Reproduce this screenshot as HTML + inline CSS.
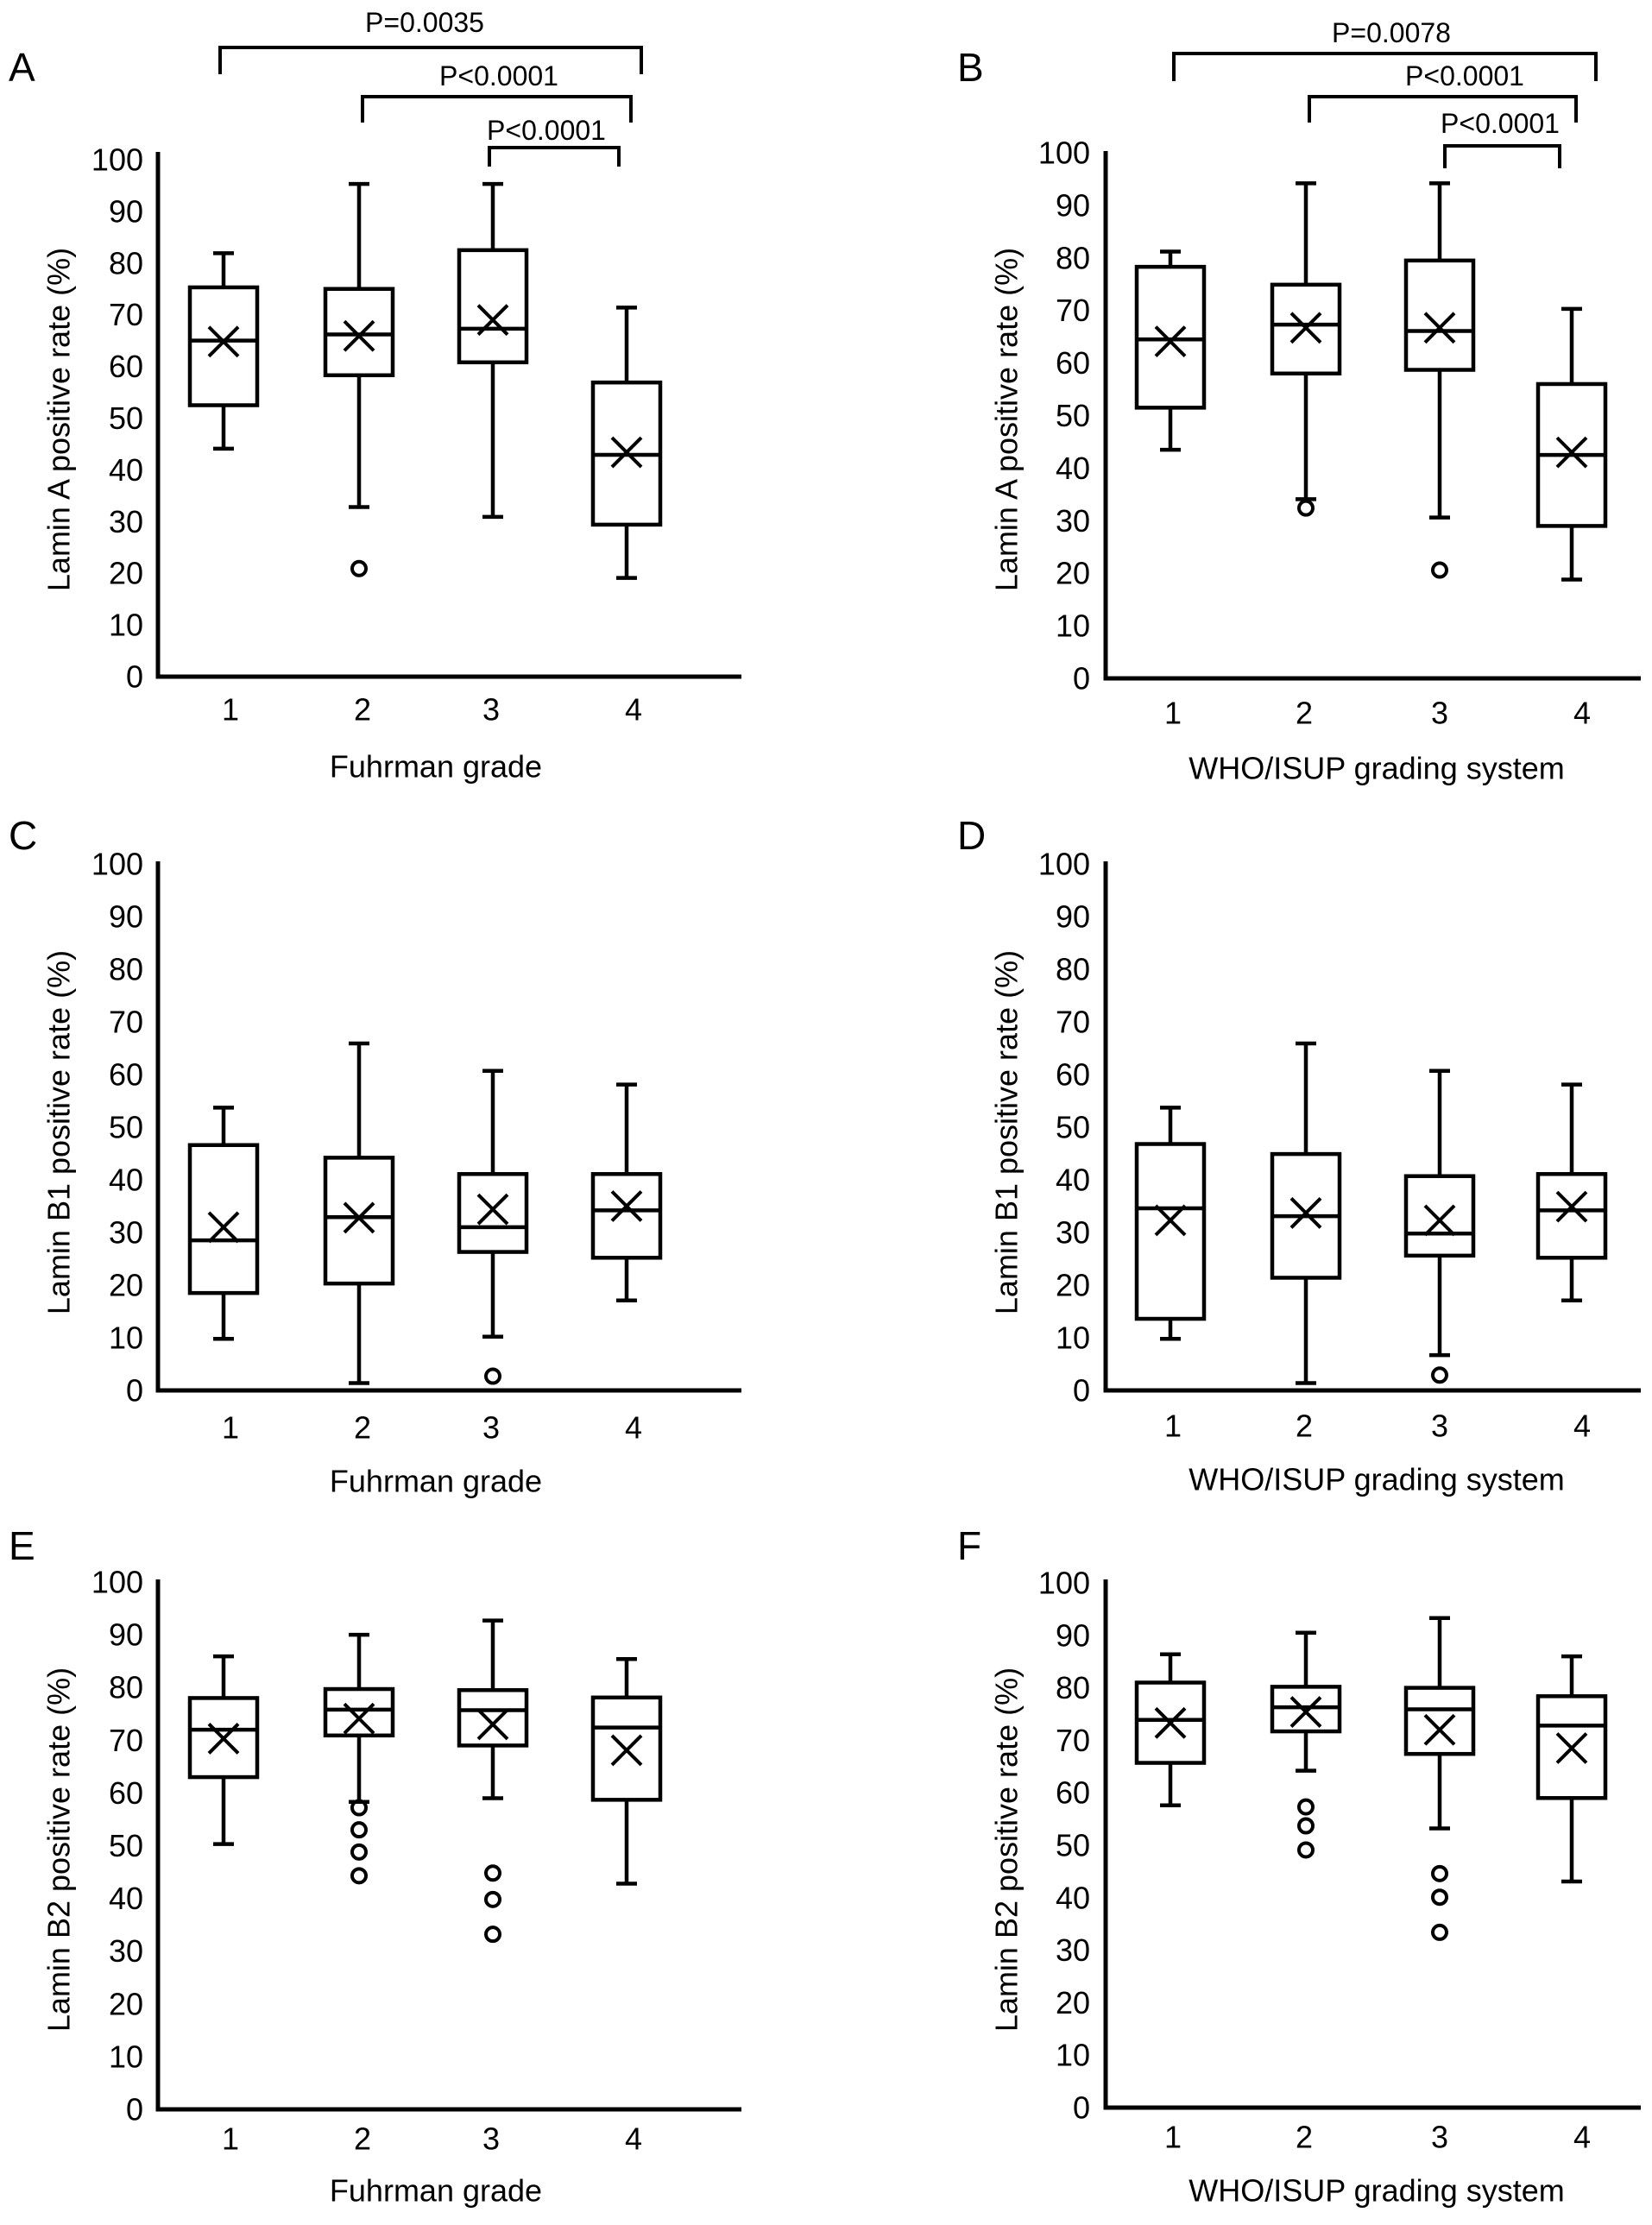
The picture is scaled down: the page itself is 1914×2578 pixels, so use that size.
<!DOCTYPE html>
<html><head><meta charset="utf-8">
<style>
html,body{margin:0;padding:0;background:#fff;}
svg{display:block;}
text{font-family:"Liberation Sans",Arial,sans-serif;fill:#000;}
</style></head>
<body>
<svg id="fig" width="1914" height="2578" viewBox="0 0 1914 2578" xmlns="http://www.w3.org/2000/svg"></svg>
<script>
const categories = ['1','2','3','4'];
const yTicks = [0,10,20,30,40,50,60,70,80,90,100];

// Panel A: Lamin A, Fuhrman
const highA = [81.9, 95.3, 95.3, 71.4];
const q3A = [75.3, 75.0, 82.5, 56.9];
const medA = [65.0, 66.2, 67.3, 42.9];
const q1A = [52.5, 58.3, 60.8, 29.4];
const lowA = [44.1, 32.8, 30.9, 19.1];
const meanA = [64.8, 65.9, 69.0, 43.4];
const outA = [[], [20.9], [], []];
// Panel B: Lamin A, WHO/ISUP
const highB = [81.2, 94.2, 94.2, 70.3];
const q3B = [78.3, 74.9, 79.5, 56.0];
const medB = [64.5, 67.3, 66.1, 42.5];
const q1B = [51.5, 58.0, 58.7, 29.0];
const lowB = [43.5, 34.1, 30.6, 18.8];
const meanB = [64.1, 66.7, 66.7, 43.0];
const outB = [[], [32.4], [20.6], []];
// Panel C: Lamin B1, Fuhrman
const highC = [53.7, 65.9, 60.7, 58.1];
const q3C = [46.6, 44.2, 41.1, 41.1];
const medC = [28.5, 32.9, 31.0, 34.2];
const q1C = [18.5, 20.3, 26.3, 25.2];
const lowC = [9.8, 1.4, 10.2, 17.1];
const meanC = [31.0, 32.8, 34.4, 35.0];
const outC = [[], [], [2.7], []];
// Panel D: Lamin B1, WHO/ISUP
const highD = [53.7, 65.9, 60.7, 58.1];
const q3D = [46.8, 44.9, 40.7, 41.1];
const medD = [34.6, 33.1, 29.8, 34.2];
const q1D = [13.6, 21.4, 25.6, 25.2];
const lowD = [9.8, 1.4, 6.7, 17.1];
const meanD = [32.3, 33.7, 32.3, 34.9];
const outD = [[], [], [2.9], []];
// Panel E: Lamin B2, Fuhrman
const highE = [85.9, 90.0, 92.7, 85.4];
const q3E = [78.0, 79.7, 79.5, 78.1];
const medE = [72.0, 75.8, 75.7, 72.4];
const q1E = [63.0, 70.9, 69.0, 58.7];
const lowE = [50.3, 58.3, 59.0, 42.8];
const meanE = [70.3, 74.1, 73.0, 68.1];
const outE = [[], [57.2, 53.0, 48.8, 44.3], [44.8, 39.8, 33.2], []];
// Panel F: Lamin B2, WHO/ISUP
const highF = [86.4, 90.5, 93.3, 86.0];
const q3F = [81.0, 80.2, 80.0, 78.4];
const medF = [73.9, 76.3, 75.9, 72.8];
const q1F = [65.7, 71.7, 67.4, 59.0];
const lowF = [57.6, 64.2, 53.2, 43.1];
const meanF = [73.3, 75.4, 72.0, 68.5];
const outF = [[], [57.3, 53.7, 49.1], [44.6, 40.1, 33.4], []];

const pvalsA = ['P=0.0035','P<0.0001','P<0.0001'];
const pvalsB = ['P=0.0078','P<0.0001','P<0.0001'];

const NS = 'http://www.w3.org/2000/svg';
const svg = document.getElementById('fig');
function el(tag, attrs, parent){
  const e = document.createElementNS(NS, tag);
  for (const k in attrs) e.setAttribute(k, attrs[k]);
  (parent||svg).appendChild(e);
  return e;
}
function txt(s, x, y, size, anchor, parent){
  const t = el('text', {x:x, y:y, 'font-size':size, 'text-anchor':anchor||'middle', 'dominant-baseline':'central'}, parent);
  t.textContent = s;
  return t;
}

function drawPanel(cfg){
  const g = el('g', {});
  
  
  const yScale = v => cfg.y0 - (cfg.y0 - cfg.y100) * v / 100;
  const xScale = i => cfg.cx[i];
  const L = txt(cfg.letter, cfg.letterX, cfg.letterY, 46, 'start', g);
  
  
  const ax = el('path', {d:`M${cfg.ax} ${cfg.top} V${cfg.y0} H${cfg.right}`, fill:'none', stroke:'#000', 'stroke-width':5}, g);
  
  
  yTicks.forEach(v => {
    const t = txt(String(v), cfg.tickX, yScale(v), 36, 'end', g);
    
    
  });
  categories.forEach((c, i) => {
    const t = txt(c, xScale(i) + cfg.labOff[i], cfg.catY, 36, 'middle', g);
    
    
  });
  const xt = txt(cfg.xTitle, cfg.xTitleX, cfg.xTitleY, 36, 'middle', g);
  
  
  const yt = txt(cfg.yTitle, 0, 0, 36, 'middle', g);
  yt.setAttribute('transform', `translate(${cfg.yTitleX},${cfg.yTitleY}) rotate(-90)`);
  
  
  const bw = 78, cap = 12, sw = 4.5;
  categories.forEach((c, i) => {
    const x = xScale(i);
    const bg = el('g', {stroke:'#000', 'stroke-width':sw, fill:'none'}, g);
    
    
    const yH = yScale(cfg.high[i]), yQ3 = yScale(cfg.q3[i]), yM = yScale(cfg.med[i]), yQ1 = yScale(cfg.q1[i]), yL = yScale(cfg.low[i]);
    el('path', {d:`M${x} ${yH} V${yQ3} M${x} ${yQ1} V${yL} M${x-cap} ${yH} H${x+cap} M${x-cap} ${yL} H${x+cap}`}, bg);
    el('rect', {x:x-bw/2, y:yQ3, width:bw, height:yQ1-yQ3}, bg);
    el('path', {d:`M${x-bw/2} ${yM} H${x+bw/2}`}, bg);
    const ym = yScale(cfg.mean[i]), s = 17;
    const mk = el('path', {d:`M${x-s} ${ym-s} L${x+s} ${ym+s} M${x-s} ${ym+s} L${x+s} ${ym-s}`, stroke:'#000', 'stroke-width':4, fill:'none'}, g);
    
    
    cfg.out[i].forEach(v => {
      const o = el('circle', {cx:x, cy:yScale(v), r:8, fill:'none', stroke:'#000', 'stroke-width':4}, g);
      
      
    });
  });
  if (cfg.brackets) {
    cfg.brackets.forEach((b, k) => {
      const br = el('path', {d:`M${b.x1} ${b.drop} V${b.y} H${b.x2} V${b.drop}`, fill:'none', stroke:'#000', 'stroke-width':4}, g);
      
      
      const pt = txt(cfg.pvals[k], b.tx, b.ty, 32, 'middle', g);
      
      
    });
  }
}

const leftCx = [259, 416, 571, 726];
const rightCx = [1356, 1513, 1668, 1821];
const leftLab = [8, 4, -2, 8];
const rightLab = [3, -2, 0, 12];
const left = {ax:183, right:859, tickX:166, cx:leftCx, labOff:leftLab, xTitle:'Fuhrman grade', xTitleX:505, yTitleX:68, letterX:10};
const right = {ax:1281, right:1901, tickX:1263, cx:rightCx, labOff:rightLab, xTitle:'WHO/ISUP grading system', xTitleX:1595, yTitleX:1166, letterX:1109};

drawPanel(Object.assign({}, left, {letter:'A', yTitle:'Lamin A positive rate (%)', y0:784, y100:185, top:176, catY:822, xTitleY:888, yTitleY:486, letterY:78,
  high:highA, q3:q3A, med:medA, q1:q1A, low:lowA, mean:meanA, out:outA, pvals:pvalsA,
  brackets:[{x1:255,x2:743,y:55,drop:86,tx:492,ty:26},{x1:420,x2:731,y:112,drop:142,tx:578,ty:88},{x1:567,x2:717,y:171,drop:193,tx:633,ty:151}]}));
drawPanel(Object.assign({}, right, {letter:'B', yTitle:'Lamin A positive rate (%)', y0:786, y100:177, top:175, catY:826, xTitleY:890, yTitleY:486, letterY:78,
  high:highB, q3:q3B, med:medB, q1:q1B, low:lowB, mean:meanB, out:outB, pvals:pvalsB,
  brackets:[{x1:1360,x2:1849,y:62,drop:94,tx:1612,ty:38},{x1:1517,x2:1826,y:112,drop:142,tx:1697,ty:88},{x1:1674,x2:1807,y:169,drop:195,tx:1738,ty:143}]}));
drawPanel(Object.assign({}, left, {letter:'C', yTitle:'Lamin B1 positive rate (%)', y0:1611, y100:1001, top:998, catY:1654, xTitleY:1716, yTitleY:1312, letterY:968,
  high:highC, q3:q3C, med:medC, q1:q1C, low:lowC, mean:meanC, out:outC}));
drawPanel(Object.assign({}, right, {letter:'D', yTitle:'Lamin B1 positive rate (%)', y0:1611, y100:1001, top:998, catY:1652, xTitleY:1714, yTitleY:1312, letterY:968,
  high:highD, q3:q3D, med:medD, q1:q1D, low:lowD, mean:meanD, out:outD}));
drawPanel(Object.assign({}, left, {letter:'E', yTitle:'Lamin B2 positive rate (%)', y0:2444, y100:1833, top:1830, catY:2478, xTitleY:2538, yTitleY:2143, letterY:1791,
  high:highE, q3:q3E, med:medE, q1:q1E, low:lowE, mean:meanE, out:outE}));
drawPanel(Object.assign({}, right, {letter:'F', yTitle:'Lamin B2 positive rate (%)', y0:2442, y100:1834, top:1830, catY:2476, xTitleY:2538, yTitleY:2143, letterY:1791,
  high:highF, q3:q3F, med:medF, q1:q1F, low:lowF, mean:meanF, out:outF}));
</script>
</body></html>
